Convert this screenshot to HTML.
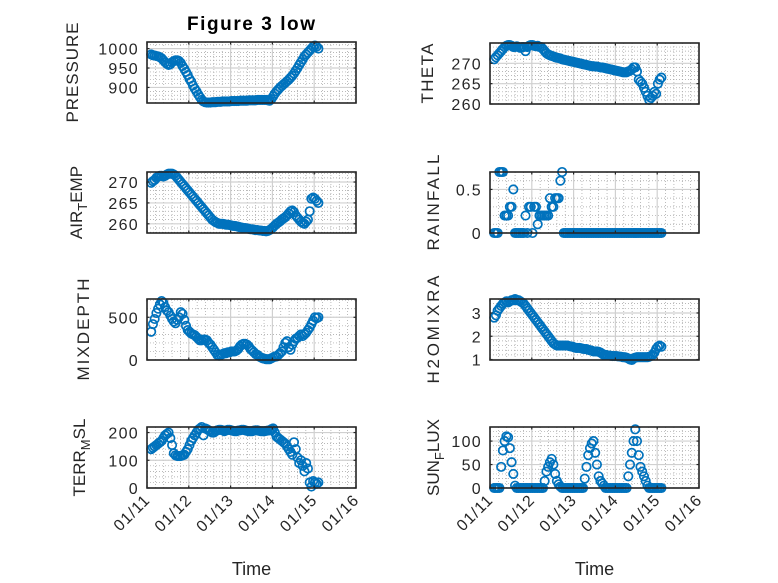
<!DOCTYPE html>
<html><head><meta charset="utf-8"><style>
html,body{margin:0;padding:0;background:#fff;}
svg{display:block;font-family:"Liberation Sans",Arial,sans-serif;}
</style></head><body>
<svg id="fig" width="778" height="583" viewBox="0 0 778 583" xmlns="http://www.w3.org/2000/svg">
<rect x="0" y="0" width="778" height="583" fill="#fff"/>
<text x="251" y="30" text-anchor="middle" font-size="19" font-weight="bold" fill="#000" textLength="128" lengthAdjust="spacing">Figure 3 low</text>
</svg>
<script>
const xTickLabels = ['01/11','01/12','01/13','01/14','01/15','01/16'];
const xTickDays = [11,12,13,14,15,16];
const startDay = 11.1;
const pressure = [985,983,982,981,980,978,975,970,965,961,958,960,965,968,970,970,968,963,955,948,940,932,922,915,
905,897,890,882,875,868,864,862,861,861,861,862,862,862,863,863,863,864,864,864,864,864,865,865,
865,865,865,866,866,866,866,866,867,867,867,867,867,868,868,868,868,868,868,867,866,870,877,884,
890,895,900,904,908,912,916,920,925,930,936,943,950,958,965,972,980,985,990,995,1000,1005,1008,1005,1000];
const theta = [271,271.5,272,272.5,273,273.5,274,274.3,274.5,274.5,274.3,274,274,274.2,274,273.8,274,274,273,274,274.3,274.5,274.5,274.3,
274.2,274.3,274,274,273.5,273,272.5,272.2,272,271.8,271.7,271.5,271.4,271.3,271.2,271,270.9,270.8,270.7,270.6,270.5,270.4,270.3,270.2,
270.1,270,269.9,269.8,269.7,269.6,269.5,269.4,269.3,269.3,269.2,269.2,269.1,269,269,268.9,268.8,268.7,268.6,268.5,268.4,268.3,268.2,268.1,
268,267.9,267.8,267.8,267.8,268,268.2,268.5,269,269,268,266,265.5,265,264,263,262,261,261.5,262,263,262.5,265,266,266.5];
const airTemp = [269.8,270.2,270.5,271,271.3,271.5,271.5,271.3,271.5,271.8,272,272,272,271.8,271.5,271,270.5,270,269.5,269,268.5,268,267.5,267,
266.5,266,265.5,265,264.5,264,263.5,263,262.5,262,261.5,261,260.7,260.4,260.2,260,260,260,259.9,259.8,259.8,259.7,259.6,259.5,
259.5,259.4,259.3,259.2,259.1,259,259,258.9,258.8,258.7,258.7,258.6,258.5,258.5,258.4,258.4,258.3,258.3,258.2,258.3,258.5,258.8,259.2,259.6,
260,260.3,260.6,261,261.3,261.6,262,262.5,263,263.2,262.8,262,261.5,261,260.5,260.2,260,260.5,261,263,266,266.3,266,265.5,265];
const rainfall = [0,0,0,0.7,0.7,0.7,0.2,0.2,0.2,0.3,0.3,0.5,0,0,0,0,0,0,0.2,0,0.3,0.3,0,0.3,
0.3,0.1,0.2,0.2,0.2,0.2,0.2,0.2,0.4,0.3,0.3,0.4,0.4,0.4,0.6,0.7,0,0,0,0,0,0,0,0,
0,0,0,0,0,0,0,0,0,0,0,0,0,0,0,0,0,0,0,0,0,0,0,0,
0,0,0,0,0,0,0,0,0,0,0,0,0,0,0,0,0,0,0,0,0,0,0,0,0];
const mixDepth = [330,420,480,550,600,650,690,670,620,580,560,520,480,450,430,470,500,560,540,470,400,350,330,310,
300,290,270,250,230,230,240,240,230,200,180,150,120,90,60,50,60,70,80,80,90,90,100,100,
100,110,130,160,180,190,190,180,160,130,110,90,70,60,40,30,20,15,10,10,10,20,30,40,
40,60,80,100,150,200,220,150,120,180,220,250,260,280,300,280,300,320,350,380,420,460,500,490,500];
const h2oMix = [2.8,2.9,3.1,3.2,3.3,3.4,3.45,3.5,3.45,3.5,3.55,3.55,3.6,3.55,3.55,3.5,3.45,3.4,3.3,3.2,3.1,3.0,2.9,2.8,
2.7,2.6,2.5,2.4,2.3,2.2,2.1,2.0,1.9,1.8,1.7,1.65,1.6,1.6,1.6,1.6,1.6,1.6,1.6,1.58,1.56,1.55,1.52,1.5,
1.5,1.5,1.48,1.46,1.45,1.45,1.42,1.4,1.38,1.35,1.35,1.35,1.33,1.3,1.25,1.2,1.2,1.18,1.17,1.16,1.15,1.15,1.15,1.14,
1.13,1.12,1.1,1.1,1.08,1.05,1.0,0.98,1.05,1.08,1.1,1.1,1.1,1.1,1.1,1.1,1.1,1.12,1.15,1.2,1.3,1.45,1.55,1.6,1.55];
const terrMsl = [140,145,150,155,160,165,170,180,190,195,200,180,155,125,118,115,115,115,118,120,130,140,155,170,
180,190,200,210,215,220,190,215,212,208,205,200,200,205,208,210,210,208,205,207,210,210,208,206,
205,205,207,208,210,210,208,206,205,205,205,207,208,208,206,205,205,205,206,207,208,212,215,200,
185,180,175,170,165,160,150,140,130,120,165,140,110,90,100,80,60,90,70,20,5,25,20,15,20];
const sunFlux = [0,0,0,0,45,80,100,110,108,85,55,30,5,0,0,0,0,0,0,0,0,0,0,0,
0,0,0,0,0,15,35,45,55,62,50,30,15,8,3,0,0,0,0,0,0,0,0,0,
0,0,0,0,20,45,70,85,95,100,75,50,25,15,10,5,0,0,0,0,0,0,0,0,
0,0,0,0,0,25,50,75,100,125,100,70,45,35,25,15,5,0,0,0,0,0,0,0,0];
const pressureTicks=[900,950,1000], thetaTicks=[260,265,270], airTicks=[260,265,270], rainTicks=[0,0.5],
      mixTicks=[0,500], h2oTicks=[1,2,3], terrTicks=[0,100,200], sunTicks=[0,50,100];

const NS='http://www.w3.org/2000/svg';
const svg=document.getElementById('fig');
function mk(tag,attrs,parent){const e=document.createElementNS(NS,tag);for(const k in attrs)e.setAttribute(k,attrs[k]);(parent||svg).appendChild(e);return e;}

const panels=[
 {name:'pressure',data:pressure,ticks:pressureTicks,ymin:860,ymax:1017,x0:147,y0:42,lx:78,len:100,label:['PRESSURE']},
 {name:'theta',data:theta,ticks:thetaTicks,ymin:260,ymax:275,x0:490,y0:43,lx:433,len:60,label:['THETA']},
 {name:'air-temp',data:airTemp,ticks:airTicks,ymin:257.8,ymax:272.4,x0:147,y0:172,lx:82,len:95,label:['AIR','T','EMP']},
 {name:'rainfall',data:rainfall,ticks:rainTicks,ymin:0,ymax:0.7,x0:490,y0:172,lx:439,len:96,label:['RAINFALL']},
 {name:'mixdepth',data:mixDepth,ticks:mixTicks,ymin:0,ymax:714,x0:147,y0:299,lx:89,len:102,label:['MIXDEPTH']},
 {name:'h2omixra',data:h2oMix,ticks:h2oTicks,ymin:0.98,ymax:3.6,x0:490,y0:299,lx:439,len:108,label:['H2OMIXRA']},
 {name:'terr-msl',data:terrMsl,ticks:terrTicks,ymin:0,ymax:220,x0:147,y0:427,lx:85,len:100,label:['TERR','M','SL']},
 {name:'sun-flux',data:sunFlux,ticks:sunTicks,ymin:0,ymax:130,x0:490,y0:427,lx:439,len:84,label:['SUN','F','LUX']}
];
const W=209,H=61;
panels.forEach((p,pi)=>{
 const g=mk('g',{});
 
 
 const xs=d=>p.x0+(d-11)/5*W;
 const ys=v=>p.y0+H-(v-p.ymin)/(p.ymax-p.ymin)*H;
 const yb=p.y0+H;
 for(let d=11;d<16-1e-9;d+=0.2){const x=xs(d);if(Math.abs(d-Math.round(d))<1e-6)continue;
  const l=mk('line',{x1:x,x2:x,y1:p.y0,y2:yb,stroke:'#a0a0a0','stroke-width':0.7,'stroke-dasharray':'1 2'},g);
  }
 const step=p.ticks[1]-p.ticks[0], ms=step/5;
 for(let v=p.ticks[0]-step;v<=p.ymax;v+=ms){if(v<p.ymin||v>p.ymax)continue;const y=ys(v);
  const l=mk('line',{x1:p.x0,x2:p.x0+W,y1:y,y2:y,stroke:'#a0a0a0','stroke-width':0.7,'stroke-dasharray':'1 2'},g);
  }
 xTickDays.forEach(d=>{const x=xs(d);const l=mk('line',{x1:x,x2:x,y1:p.y0,y2:yb,stroke:'#d0d0d0','stroke-width':1.2},g);
  });
 p.ticks.forEach(v=>{const y=ys(v);const l=mk('line',{x1:p.x0,x2:p.x0+W,y1:y,y2:y,stroke:'#d0d0d0','stroke-width':1.2},g);
  });
 const mg=mk('g',{fill:'none',stroke:'#0072BD','stroke-width':1.7},g);
 
 p.data.forEach((v,i)=>{const c=mk('circle',{cx:xs(startDay+i/24).toFixed(2),cy:ys(v).toFixed(2),r:4.2},mg);
  });
 const b=mk('rect',{x:p.x0,y:p.y0,width:W,height:H,fill:'none',stroke:'#262626','stroke-width':1.6},g);
 
 xTickDays.forEach((d,k)=>{const x=xs(d);
  mk('line',{x1:x,x2:x,y1:yb,y2:yb-2.5,stroke:'#262626','stroke-width':1.2},g);
  mk('line',{x1:x,x2:x,y1:p.y0,y2:p.y0+2.5,stroke:'#262626','stroke-width':1.2},g);
  if(pi>=6){const t=mk('text',{x:x+4,y:yb+13,'text-anchor':'end','font-size':16,'letter-spacing':1,fill:'#262626',transform:`rotate(-45 ${x+4} ${yb+13})`},g);
   t.textContent=xTickLabels[k];}
 });
 p.ticks.forEach(v=>{const y=ys(v);
  mk('line',{x1:p.x0,x2:p.x0+2.5,y1:y,y2:y,stroke:'#262626','stroke-width':1.2},g);
  mk('line',{x1:p.x0+W,x2:p.x0+W-2.5,y1:y,y2:y,stroke:'#262626','stroke-width':1.2},g);
  const t=mk('text',{x:p.x0-8,y:y+6,'text-anchor':'end','font-size':16,'letter-spacing':1.3,fill:'#262626'},g);
  t.textContent=v;});
 const cy=p.y0+H/2;
 const t=mk('text',{x:p.lx,y:cy,'text-anchor':'middle','font-size':17,fill:'#262626',transform:`rotate(-90 ${p.lx} ${cy})`},g);
 
 if(p.label.length===1){t.textContent=p.label[0];t.setAttribute('textLength',p.len);t.setAttribute('lengthAdjust','spacing');}
 else{const a=mk('tspan',{},t);a.textContent=p.label[0];
  const s=mk('tspan',{dy:5,'font-size':13},t);s.textContent=p.label[1];
  const c=mk('tspan',{dy:-5},t);c.textContent=p.label[2];}
 if(pi>=6){const tt=mk('text',{x:p.x0+W/2,y:575,'text-anchor':'middle','font-size':18,fill:'#262626'},g);
  tt.textContent='Time';}
});
</script>
</body></html>
